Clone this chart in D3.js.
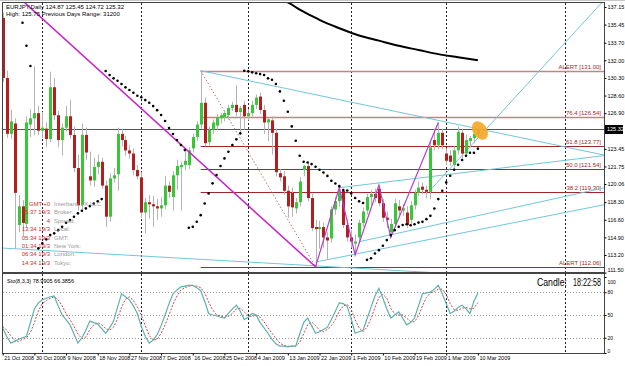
<!DOCTYPE html>
<html>
<head>
<meta charset="utf-8">
<script src="https://cdn.jsdelivr.net/npm/d3@7"></script>
<style>
body { margin: 0; background: #fff; }
svg { display: block; font-family: "Liberation Sans", Arial, sans-serif; }
</style>
</head>
<body>
<svg width="625" height="366"></svg>
<script>
// data.......................................................................

var opens = [136.10,130.30,124.90,125.90,116.10,117.90,116.20,125.80,126.40,126.90,
	125.20,125.40,124.40,129.40,126.70,124.30,125.50,126.60,124.80,121.60,
	118.00,124.80,120.80,120.40,121.70,122.20,119.90,116.90,120.60,121.00,
	124.90,124.30,123.30,123.00,121.40,120.70,117.30,118.30,118.10,117.90,
	117.70,118.00,119.90,118.80,120.90,121.70,121.90,121.90,123.50,124.60,
	125.80,127.90,124.10,125.30,125.70,126.40,126.50,126.70,127.40,127.70,
	127.00,127.70,126.60,126.90,127.70,128.50,127.20,126.00,126.20,125.00,
	121.10,120.80,119.40,119.20,117.70,118.30,121.40,121.80,118.70,115.90,
	115.70,115.90,114.90,114.80,117.60,118.40,119.40,116.10,114.90,114.30,
	114.90,116.30,117.50,118.80,119.10,119.60,118.20,116.80,115.40,116.20,
	117.90,117.50,117.30,116.60,118.00,119.20,119.80,119.50,119.30,124.30,
	123.80,125.00,123.00,122.80,121.90,123.30,125.00,123.00,124.20,124.50,
	124.87];
var highs = [136.60,131.00,127.20,126.40,119.00,118.50,126.60,127.30,131.40,127.60,
	127.00,126.00,130.90,130.30,127.10,125.90,127.60,128.20,125.60,122.90,
	125.90,125.50,123.20,122.60,122.90,122.60,120.40,121.10,121.60,125.50,
	125.40,124.70,123.80,123.50,121.90,121.20,118.70,119.00,118.90,118.60,
	118.80,120.80,120.30,121.30,122.40,122.20,123.20,123.60,124.90,126.10,
	131.00,128.40,125.60,126.30,126.80,126.90,127.20,127.70,128.00,129.60,
	127.60,128.10,127.30,128.10,128.70,128.90,127.70,126.50,126.60,125.40,
	121.50,121.30,119.90,119.70,118.70,120.70,121.90,122.20,119.10,116.60,
	116.50,116.30,115.40,117.90,118.80,119.70,119.60,116.60,115.60,115.20,
	116.60,117.80,119.10,119.50,119.60,119.95,118.60,117.40,116.70,118.60,
	118.50,118.10,117.90,118.40,119.50,120.30,120.20,119.90,124.10,125.40,
	126.00,125.40,123.50,123.30,123.70,125.60,125.40,124.80,124.70,125.30,
	125.45];
var lows = [129.90,124.50,124.40,113.80,115.40,115.00,115.80,124.60,124.80,124.80,
	124.50,123.60,124.10,126.20,123.60,122.80,125.10,124.40,121.20,117.50,
	117.60,122.40,119.90,119.80,121.00,119.60,115.90,116.40,120.20,119.40,
	123.70,122.80,122.50,120.90,120.50,116.80,115.30,116.70,115.90,116.60,
	116.90,117.60,118.70,117.50,119.50,117.50,121.40,121.50,123.10,124.20,
	125.40,123.70,123.80,124.90,125.30,125.90,126.10,126.30,127.10,126.60,
	124.80,125.30,126.20,126.40,127.30,126.80,124.90,124.20,122.90,120.80,
	120.30,119.00,116.80,116.90,117.20,117.90,120.80,118.40,115.50,112.06,
	113.80,113.90,112.80,114.40,117.10,117.90,115.80,114.50,113.90,113.20,
	114.40,115.90,117.10,118.00,118.30,117.90,116.40,115.80,114.90,115.90,
	117.00,117.00,115.80,116.20,117.60,118.90,119.10,118.70,118.60,123.30,
	123.40,123.40,121.90,121.80,121.50,122.90,122.50,122.70,123.60,124.00,
	124.72];
var closes = [130.30,124.90,126.10,119.20,117.90,116.30,126.00,126.40,126.90,125.20,
	125.50,124.40,129.40,126.70,124.30,125.50,126.60,124.80,121.60,118.00,
	124.80,123.10,120.40,121.70,122.20,119.90,116.90,120.60,120.90,124.90,
	124.30,123.30,123.00,121.40,120.80,117.30,118.30,118.10,117.90,117.70,
	118.00,119.90,119.30,120.90,121.80,121.90,122.30,123.30,124.60,125.80,
	127.90,124.00,125.30,126.00,126.50,126.70,126.90,127.40,127.70,127.00,
	127.40,126.60,126.90,127.70,128.40,127.20,126.00,126.30,125.00,121.20,
	120.70,119.40,117.90,117.80,118.30,120.30,121.80,118.70,115.80,115.70,
	115.90,114.90,114.60,117.60,118.40,119.40,116.10,114.90,114.50,114.50,
	116.30,117.40,118.80,119.10,118.70,118.20,116.80,116.60,116.20,118.20,
	117.50,117.70,116.10,118.00,119.20,119.70,119.50,119.30,123.60,123.80,
	125.00,123.80,122.30,122.20,123.30,125.10,123.00,124.30,124.50,124.90,
	125.32];

// parabolic SAR, null where not shown
var sar = [null,null,null,null,null,135.63,133.41,131.45,null,113.84,
	114.32,114.71,115.12,115.29,115.60,115.92,116.31,116.57,116.89,117.22,
	117.47,117.70,117.92,118.18,118.38,118.60,130.97,130.58,130.26,130.03,
	129.71,129.39,129.13,128.87,128.58,128.43,128.16,127.90,127.58,127.19,
	126.72,126.14,125.46,124.88,124.30,123.82,123.33,115.83,115.92,116.41,
	117.05,118.18,119.15,120.12,120.92,121.79,122.53,123.17,123.82,124.37,
	124.95,131.00,130.94,130.84,130.75,130.67,130.58,130.26,130.13,129.71,
	129.00,128.10,127.04,125.62,124.23,122.78,122.20,122.14,121.98,121.72,
	121.43,121.17,120.84,120.36,120.10,119.85,119.47,119.43,119.15,118.70,
	118.38,118.22,112.73,112.89,113.35,113.67,114.10,114.64,115.12,115.60,
	115.93,116.09,116.17,116.08,116.17,116.33,116.40,116.66,116.98,117.69,
	118.60,119.40,120.21,120.86,121.44,121.92,122.37,122.79,123.08,123.08,
	123.47];

// black moving average (visible part only)
var maBars = [68, 70, 72, 75, 78, 80, 85, 90, 95, 100, 105, 110, 115, 120];
var maVals = [138.3, 137.9, 137.6, 136.9, 136.3, 135.9, 135.1, 134.4, 133.9, 133.4, 133.0, 132.6, 132.3, 132.0];

var stochK = [33,22,13,15,18,20,22,40,58,66,70,72,74,75,62,50,44,37,25,13,
	20,30,42,40,38,32,26,33,42,60,78,74,70,62,52,35,22,13,17,24,
	36,50,65,78,83,87,88,89,89,86,82,68,52,50,49,47,46,52,58,63,
	55,44,47,52,50,40,33,26,18,12,9,9,8,9,9,25,40,46,36,26,
	28,31,34,44,55,66,65,61,45,26,28,30,45,60,75,85,72,58,46,50,
	54,46,37,40,46,62,78,79,80,84,89,78,65,52,55,60,63,58,52,68,
	78.99];
var stochD = [35,30,23,17,15,18,20,27,40,55,65,69,72,74,70,62,52,44,35,25,
	19,21,31,37,40,37,32,30,34,45,60,71,74,69,61,50,36,23,17,18,
	26,37,50,64,75,83,86,88,89,88,86,79,67,57,50,49,47,48,52,58,
	59,54,49,48,50,47,41,33,26,19,13,10,9,9,9,14,25,37,41,36,
	30,28,31,36,44,55,62,64,57,44,33,28,34,45,60,73,77,72,59,51,
	50,50,46,41,41,49,62,73,79,81,84,84,77,65,57,56,59,60,58,59,
	66.39];

// fibonacci levels drawn from the 131.00 high to the 112.06 low
var fibLevels = [131.00, 126.54, 123.77, 121.54, 119.30, 112.06];
var fibNames = ["ALERT", "76.4", "61.8", "50.0", "38.2", "ALERT"];

// drawn lines: [bar, price] anchors
var magentaLine = [[0, 139.5], [79, 112.06]];
var zigzag = [[79, 112.06], [85, 119.70], [89, 113.20], [95, 119.95], [98, 114.90], [110, 126.00]];
var fibTrend = [[50, 131.00], [79, 112.06]];
var cyanLines = [
	[[50, 131.00], [110, 126.20]],
	[[0, 113.87], [79, 112.15]],
	[[79, 112.52], [126, 116.09]],
	[[90, 114.48], [126, 117.51]],
	[[85, 119.70], [126, 121.60]],
	[[108, 119.47], [135.7, 131.06]]
];

var priceTicks = [137.15, 135.45, 133.70, 132.00, 130.30, 128.60, 126.90, 123.45,
	121.75, 120.06, 118.30, 116.60, 114.90, 113.20, 111.50];
var lastPrice = 125.32;
var dateTicks = [0, 8, 16, 24, 32, 40, 48, 56, 64, 72, 80, 88, 96, 104, 112, 120];
var dateLabels = ["21 Oct 2008", "30 Oct 2008", "9 Nov 2008", "18 Nov 2008", "27 Nov 2008",
	"7 Dec 2008", "16 Dec 2008", "25 Dec 2008", "4 Jan 2009", "13 Jan 2009", "22 Jan 2009",
	"1 Feb 2009", "10 Feb 2009", "19 Feb 2009", "1 Mar 2009", "10 Mar 2009"];
var monthBars = [10, 35, 62, 88, 112, 142];
var stochLevels = [80, 50, 20];
var stochTicks = [100, 80, 50, 20, 0];

var infoRed = ["GMT:+0", "05:37  19/3", "4", "13:34  19/3", "05:34  19/3", "01:34  19/3", "06:34  19/3", "14:34  19/3"];
var infoGray = ["Interbank FX LLC", "Broker:", "Spread:", "Local:", "GMT:", "New York:", "London:", "Tokyo:"];

// scales.....................................................................

var svg = d3.select("svg"),
	pLeft = 3, pRight = 604, pTop = 3, pBottom = 272, sTop = 274, sBottom = 353;

var x = d3.scaleLinear().domain([0, 120]).range([2.7, 477.9]),
	y = d3.scaleLinear().domain([113.20, 137.15]).range([255, 7]),
	ys = d3.scaleLinear().domain([0, 100]).range([353, 277]);

var defs = svg.append("defs");
defs.append("clipPath").attr("id", "clipMain")
	.append("rect").attr("x", pLeft).attr("y", pTop)
	.attr("width", pRight - pLeft).attr("height", pBottom - pTop);
defs.append("clipPath").attr("id", "clipSto")
	.append("rect").attr("x", pLeft).attr("y", sTop)
	.attr("width", pRight - pLeft).attr("height", sBottom - sTop);

// window chrome
svg.append("rect").attr("x", 0).attr("y", 0).attr("width", 625).attr("height", 1).attr("fill", "#c8c8c8");

var main = svg.append("g").attr("clip-path", "url(#clipMain)"),
	sto = svg.append("g").attr("clip-path", "url(#clipSto)");

// month grid
[main, sto].forEach(function(g, k) {
	g.selectAll("line.grid").data(monthBars).enter().append("line")
		.attr("x1", function(d) { return Math.round(x(d)) + 0.5; })
		.attr("x2", function(d) { return Math.round(x(d)) + 0.5; })
		.attr("y1", k ? sTop : pTop).attr("y2", k ? sBottom : pBottom)
		.attr("stroke", "#222").attr("stroke-width", 1)
		.attr("stroke-dasharray", "2,2");
});

// fibonacci.................................................................

main.selectAll("line.fib").data(fibLevels).enter().append("line")
	.attr("x1", x(fibTrend[0][0])).attr("x2", pRight)
	.attr("y1", function(d) { return Math.round(y(d)) + 0.5; })
	.attr("y2", function(d) { return Math.round(y(d)) + 0.5; })
	.attr("stroke", function(d, i) { return i < 2 ? "#c48484" : "#a02828"; })
	.attr("stroke-width", function(d, i) { return i < 2 ? 1.6 : 1; });

main.selectAll("text.fib").data(fibLevels).enter().append("text")
	.attr("x", pRight - 3)
	.attr("y", function(d) { return Math.round(y(d)) - 2; })
	.attr("text-anchor", "end").attr("font-size", 6).attr("fill", "#a02828")
	.text(function(d, i) { return fibNames[i] + "  [" + d.toFixed(2) + "]"; });

var line = d3.line().x(function(d) { return x(d[0]); }).y(function(d) { return y(d[1]); });

main.append("path").attr("d", line(fibTrend))
	.attr("fill", "none").attr("stroke", "#c07070").attr("stroke-width", 1)
	.attr("stroke-dasharray", "1.5,2");

// current price line
main.append("line")
	.attr("x1", pLeft).attr("x2", pRight)
	.attr("y1", Math.round(y(lastPrice)) + 0.5).attr("y2", Math.round(y(lastPrice)) + 0.5)
	.attr("stroke", "#555").attr("stroke-width", 1);

// cyan trend lines, extended to the right edge
var xEnd = x.invert(pRight + 5);
function extend(seg) {
	var a = seg[0], b = seg[1],
		slope = (b[1] - a[1]) / (b[0] - a[0]);
	return [a, [xEnd, a[1] + slope * (xEnd - a[0])]];
}

main.selectAll("path.cyan").data(cyanLines).enter().append("path")
	.attr("d", function(d) { return line(extend(d)); })
	.attr("fill", "none").attr("stroke", "#72c6dc").attr("stroke-width", 1);

// candles.....................................................................

var bars = d3.range(closes.length);

main.selectAll("line.wick").data(bars).enter().append("line")
	.attr("x1", function(i) { return Math.round(x(i)) + 0.5; })
	.attr("x2", function(i) { return Math.round(x(i)) + 0.5; })
	.attr("y1", function(i) { return y(highs[i]); })
	.attr("y2", function(i) { return y(lows[i]); })
	.attr("stroke", "#b4b4b4").attr("stroke-width", 1);

main.selectAll("rect.body").data(bars).enter().append("rect")
	.attr("x", function(i) { return Math.round(x(i)) - 1; })
	.attr("width", 3)
	.attr("y", function(i) { return y(Math.max(opens[i], closes[i])); })
	.attr("height", function(i) { return Math.max(1, Math.abs(y(opens[i]) - y(closes[i]))); })
	.attr("fill", function(i) { return closes[i] >= opens[i] ? "#37c837" : "#b41e1e"; });

// magenta lines
main.append("path").attr("d", line(magentaLine))
	.attr("fill", "none").attr("stroke", "#c81ec8").attr("stroke-width", 1.5);
main.append("path").attr("d", line(zigzag))
	.attr("fill", "none").attr("stroke", "#b43cd2").attr("stroke-width", 1.2);

// moving average
main.append("path")
	.attr("d", d3.line().curve(d3.curveMonotoneX)
		.x(function(d, i) { return x(maBars[i]); })
		.y(function(d) { return y(d); })(maVals))
	.attr("fill", "none").attr("stroke", "#000").attr("stroke-width", 2);

// parabolic sar
main.selectAll("circle.sar").data(bars.filter(function(i) { return sar[i] != null; }))
	.enter().append("circle")
	.attr("cx", function(i) { return x(i); })
	.attr("cy", function(i) { return y(sar[i]); })
	.attr("r", 1.3).attr("fill", "#000");

// orange marker on last bar
main.append("ellipse")
	.attr("transform", "translate(" + (x(120) + 2) + "," + (y(lastPrice) + 1) + ") rotate(-35)")
	.attr("rx", 7).attr("ry", 10)
	.attr("fill", "#f5a623").attr("fill-opacity", 0.9);

// info texts................................................................

svg.append("text").attr("x", 6).attr("y", 9).attr("font-size", 6).attr("fill", "#000")
	.text("EURJPY,Daily  124.87 125.45 124.72 125.32");
svg.append("text").attr("x", 6).attr("y", 16).attr("font-size", 6).attr("fill", "#000")
	.text("High: 125.75   Previous Days Range: 31200");

var info = svg.append("g").attr("font-size", 6);
info.selectAll("text.r").data(infoRed).enter().append("text")
	.attr("x", 50).attr("y", function(d, i) { return 206 + i * 8.4; })
	.attr("text-anchor", "end").attr("fill", "#c83232").text(function(d) { return d; });
info.selectAll("text.g").data(infoGray).enter().append("text")
	.attr("x", 54).attr("y", function(d, i) { return 206 + i * 8.4; })
	.attr("fill", "#9a9a9a").text(function(d) { return d; });

// stochastic.................................................................

sto.selectAll("line.lvl").data(stochLevels).enter().append("line")
	.attr("x1", pLeft).attr("x2", pRight)
	.attr("y1", function(d) { return Math.round(ys(d)) + 0.5; })
	.attr("y2", function(d) { return Math.round(ys(d)) + 0.5; })
	.attr("stroke", "#999").attr("stroke-dasharray", "1,2");

var sline = d3.line().x(function(d, i) { return x(i); }).y(function(d) { return ys(d); });
sto.append("path").attr("d", sline(stochD))
	.attr("fill", "none").attr("stroke", "#d04848").attr("stroke-width", 1)
	.attr("stroke-dasharray", "2,1.5");
sto.append("path").attr("d", sline(stochK))
	.attr("fill", "none").attr("stroke", "#5fb0b0").attr("stroke-width", 1.2);

svg.append("text").attr("x", 7).attr("y", 283).attr("font-size", 5.5)
	.text("Sto(8,3,3) 78.9905 66.3856");
svg.append("text").attr("x", 537).attr("y", 286).attr("font-size", 10.5)
	.attr("textLength", 30).attr("lengthAdjust", "spacingAndGlyphs").text("Candle:");
svg.append("text").attr("x", 573).attr("y", 286).attr("font-size", 10.5)
	.attr("textLength", 28).attr("lengthAdjust", "spacingAndGlyphs").text("18:22:58");

// frames and axes.............................................................

svg.append("rect").attr("x", pLeft - 0.5).attr("y", pTop - 0.5)
	.attr("width", pRight - pLeft + 1).attr("height", pBottom - pTop + 1)
	.attr("fill", "none").attr("stroke", "#444");
svg.append("rect").attr("x", pLeft - 0.5).attr("y", sTop - 0.5)
	.attr("width", pRight - pLeft + 1).attr("height", sBottom - sTop + 1)
	.attr("fill", "none").attr("stroke", "#444");

var yAxis = svg.append("g").attr("transform", "translate(" + (pRight + 0.5) + ",0)")
	.call(d3.axisRight(y).tickValues(priceTicks).tickSize(2).tickFormat(d3.format(".2f")));
yAxis.select(".domain").remove();
yAxis.selectAll("text").attr("font-size", 5.5).attr("x", 3).attr("font-family", "Liberation Sans, Arial");
// lowest label is lifted a little to stay clear of the lower panel
yAxis.selectAll(".tick").filter(function(d) { return d === 111.50; })
	.select("text").attr("y", -3);

svg.append("rect").attr("x", pRight + 1).attr("y", y(lastPrice) - 4.5)
	.attr("width", 18).attr("height", 9).attr("fill", "#000");
svg.append("text").attr("x", pRight + 3).attr("y", y(lastPrice) + 2)
	.attr("font-size", 5.5).attr("fill", "#fff").text(lastPrice.toFixed(2));

var sAxis = svg.append("g").attr("transform", "translate(" + (pRight + 0.5) + ",0)")
	.call(d3.axisRight(ys).tickValues(stochTicks).tickSize(2));
sAxis.select(".domain").remove();
sAxis.selectAll("text").attr("font-size", 5).attr("x", 3).attr("font-family", "Liberation Sans, Arial");
sAxis.selectAll(".tick").filter(function(d) { return d === 100; })
	.select("text").attr("y", 5);
sAxis.selectAll(".tick").filter(function(d) { return d === 0; })
	.select("text").attr("y", -2);

var xAxis = svg.append("g").attr("transform", "translate(0," + (sBottom + 0.5) + ")")
	.call(d3.axisBottom(x).tickValues(dateTicks).tickSize(2)
		.tickFormat(function(d, i) { return dateLabels[i]; }));
xAxis.select(".domain").remove();
xAxis.selectAll("text").attr("font-size", 5.5).attr("text-anchor", "start").attr("x", 1).attr("y", 3)
	.attr("font-family", "Liberation Sans, Arial");
</script>
</body>
</html>
